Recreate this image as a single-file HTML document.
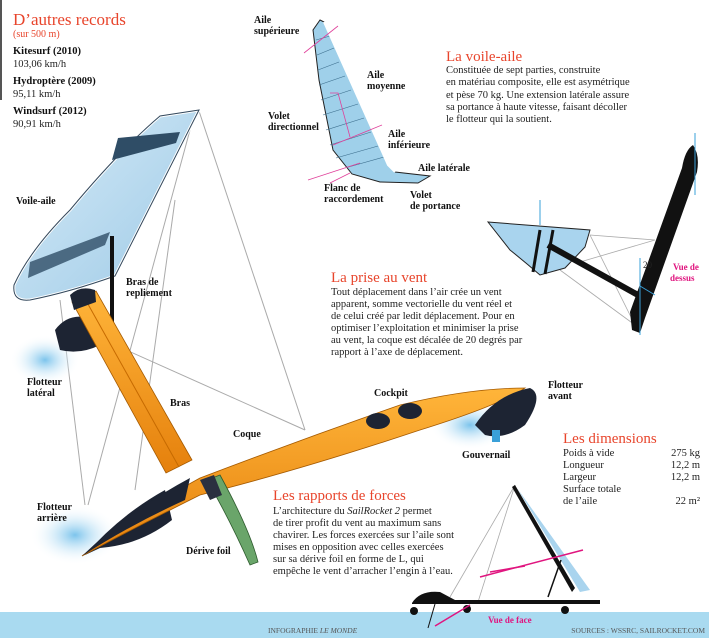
<!DOCTYPE html>
<html><head><meta charset="utf-8"><style>
html,body{margin:0;padding:0;background:#fff;width:709px;height:638px;overflow:hidden}
svg{display:block}
text{font-family:"Liberation Serif",serif}
.h{fill:#e8452c;font-size:15px}
.b{fill:#222;font-size:10.5px}
.l{fill:#111;font-size:10px;font-weight:bold}
</style></head><body>
<svg width="709" height="638" viewBox="0 0 709 638" xmlns="http://www.w3.org/2000/svg">
<defs>
<linearGradient id="sail" x1="0" y1="0" x2="1" y2="1"><stop offset="0" stop-color="#d8ecf8"/><stop offset="1" stop-color="#9cc9e6"/></linearGradient>
<linearGradient id="or" x1="0" y1="0" x2="0" y2="1"><stop offset="0" stop-color="#ffb53a"/><stop offset="1" stop-color="#e5800c"/></linearGradient>
<radialGradient id="spray"><stop offset="0" stop-color="#7cc4ec"/><stop offset="1" stop-color="#fff" stop-opacity="0"/></radialGradient>
</defs>
<rect x="0" y="0" width="2" height="100" fill="#555"/>
<rect x="0" y="612" width="709" height="26" fill="#a9daf0"/>

<!-- cables -->
<g stroke="#aaa" stroke-width="1" fill="none">
<line x1="199" y1="111" x2="305" y2="430"/>
<line x1="190" y1="130" x2="88" y2="505"/>
<line x1="175" y1="200" x2="135" y2="490"/>
<line x1="115" y1="345" x2="305" y2="430"/>
<line x1="60" y1="300" x2="85" y2="505"/>
</g>

<!-- spray -->
<ellipse cx="45" cy="360" rx="35" ry="25" fill="url(#spray)"/>
<ellipse cx="75" cy="535" rx="45" ry="30" fill="url(#spray)"/>
<ellipse cx="470" cy="425" rx="40" ry="25" fill="url(#spray)"/>

<!-- lateral float -->
<path d="M55,330 Q70,310 95,320 L100,345 Q80,355 60,350 Z" fill="#1d2433"/>
<!-- main sail -->
<path d="M199,110 L160,116 Q120,150 70,210 Q30,250 14,285 Q12,302 30,300 Q70,292 115,276 Z" fill="url(#sail)" stroke="#fff" stroke-width="3"/>
<path d="M199,110 L160,116 Q120,150 70,210 Q30,250 14,285 Q12,302 30,300 Q70,292 115,276 Z" fill="none" stroke="#33485c" stroke-width="1"/>
<path d="M118,138 L180,132 L176,143 L112,160 Z" fill="#2f4d66"/>
<path d="M30,262 L110,232 L105,245 L28,278 Z" fill="#2f4d66" opacity=".8"/>
<rect x="110" y="236" width="4" height="90" fill="#111"/>

<!-- arm -->
<path d="M72,302 L96,291 L192,460 L166,473 Z" fill="url(#or)" stroke="#a55a00" stroke-width=".8"/>
<line x1="84" y1="297" x2="179" y2="467" stroke="#c66a00" stroke-width="1"/>
<path d="M70,295 Q80,285 95,290 L96,302 L74,310 Z" fill="#1d2433"/>

<!-- rear float -->
<path d="M85,555 Q120,515 165,490 L172,520 Q140,545 100,548 Z" fill="#1d2433"/>
<!-- hull -->
<path d="M82,556 Q150,505 200,478 Q300,440 400,405 Q470,388 525,388 Q500,405 420,430 Q300,470 200,495 Q130,530 82,556 Z" fill="url(#or)" stroke="#a55a00" stroke-width=".8"/>
<path d="M82,556 Q130,525 185,500 L190,478 Q130,510 82,556Z" fill="#1d2433"/>
<ellipse cx="378" cy="421" rx="12" ry="8" fill="#1d2433"/>
<ellipse cx="410" cy="411" rx="12" ry="8" fill="#1d2433"/>
<!-- front float -->
<path d="M475,425 Q495,395 530,388 Q545,395 525,425 Q505,440 485,435 Z" fill="#1d2433"/>
<rect x="492" y="430" width="8" height="12" fill="#3aa0d8"/>
<!-- foil -->
<path d="M207,480 L220,475 Q250,530 258,562 L250,565 Q230,520 207,480Z" fill="#6aa56a" stroke="#2d5a2d" stroke-width=".8"/>
<path d="M200,480 L214,475 L222,495 L210,500Z" fill="#2a3040"/>

<!-- top wing diagram -->
<path d="M320,20 L324,22 L388,165 L395,172 L430,176 L418,183 L380,182 L352,174 L333,150 L319,80 L313,30 Z" fill="#9fd0ea" stroke="#222" stroke-width="1"/>
<g stroke="#3b6d8c" stroke-width=".6">
<line x1="316" y1="40" x2="330" y2="36"/><line x1="317" y1="55" x2="334" y2="48"/><line x1="318" y1="70" x2="339" y2="62"/><line x1="319" y1="85" x2="345" y2="76"/><line x1="321" y1="100" x2="351" y2="90"/><line x1="323" y1="115" x2="358" y2="104"/><line x1="326" y1="130" x2="364" y2="118"/><line x1="330" y1="145" x2="371" y2="132"/><line x1="336" y1="158" x2="378" y2="146"/><line x1="345" y1="168" x2="384" y2="157"/>
</g>
<path d="M324,22 L388,165 L395,172" fill="none" stroke="#fff" stroke-width="2"/>
<g stroke="#e0409a" stroke-width=".8" fill="none">
<line x1="304" y1="53" x2="338" y2="26"/><line x1="333" y1="145" x2="382" y2="125"/><line x1="308" y1="180" x2="360" y2="163"/><line x1="330" y1="183" x2="350" y2="173"/>
<path d="M330,93 L338,93 L350,137"/>
</g>

<!-- top view diagram -->
<g stroke="#aaa" stroke-width=".8" fill="none">
<line x1="590" y1="235" x2="655" y2="240"/><line x1="590" y1="235" x2="635" y2="325"/><line x1="580" y1="262" x2="655" y2="240"/><line x1="560" y1="270" x2="635" y2="325"/>
</g>
<path d="M488,222 L590,230 L585,247 L565,268 L540,275 Q525,262 510,250 Z" fill="#a9d4ee" stroke="#222" stroke-width="1"/>
<line x1="540" y1="230" x2="533" y2="272" stroke="#111" stroke-width="3"/>
<line x1="553" y1="230" x2="545" y2="274" stroke="#111" stroke-width="3"/>
<line x1="548" y1="245" x2="638" y2="295" stroke="#111" stroke-width="6"/>
<path d="M693,145 Q700,155 697,172 L645,318 L640,333 L632,330 L630,312 L682,168 Q685,150 693,145Z" fill="#111"/>
<line x1="695" y1="133" x2="695" y2="195" stroke="#3aa0d8" stroke-width="1"/>
<line x1="540" y1="200" x2="540" y2="225" stroke="#3aa0d8" stroke-width="1"/>
<line x1="640" y1="258" x2="640" y2="335" stroke="#3aa0d8" stroke-width="1"/>
<line x1="640" y1="286" x2="655" y2="295" stroke="#3aa0d8" stroke-width="1"/>

<!-- front view diagram -->
<g stroke="#aaa" stroke-width=".8" fill="none">
<line x1="515" y1="485" x2="450" y2="597"/><line x1="515" y1="485" x2="478" y2="602"/>
</g>
<path d="M515,485 L575,588 L572,592 L512,487Z" fill="#111"/>
<path d="M517,488 L590,590 L580,592Z" fill="#a9d4ee"/>
<line x1="561" y1="560" x2="548" y2="597" stroke="#111" stroke-width="1.5"/>
<path d="M412,603 Q420,590 440,592 L455,600 L600,600 L600,604 L412,604Z" fill="#111"/>
<circle cx="414" cy="611" r="4" fill="#111"/><circle cx="467" cy="609" r="4" fill="#111"/><circle cx="565" cy="610" r="4" fill="#111"/>
<line x1="435" y1="604" x2="428" y2="628" stroke="#111" stroke-width="1"/>
<g stroke="#e0157f" stroke-width="1.5">
<line x1="480" y1="577" x2="583" y2="550"/><line x1="490" y1="572" x2="525" y2="566"/><line x1="435" y1="626" x2="470" y2="605"/>
</g>

<!-- texts -->
<text x="13" y="25" style="fill:#e8452c;font-size:17px">D’autres records</text>
<text x="13" y="37" style="fill:#e8452c;font-size:10px">(sur 500 m)</text>
<text x="13" y="54" class="l" style="font-size:10.5px">Kitesurf (2010)</text>
<text x="13" y="67" class="b">103,06 km/h</text>
<text x="13" y="84" class="l" style="font-size:10.5px">Hydroptère (2009)</text>
<text x="13" y="97" class="b">95,11 km/h</text>
<text x="13" y="114" class="l" style="font-size:10.5px">Windsurf (2012)</text>
<text x="13" y="127" class="b">90,91 km/h</text>

<text x="254" y="23" class="l">Aile</text><text x="254" y="34" class="l">supérieure</text>
<text x="367" y="78" class="l">Aile</text><text x="367" y="89" class="l">moyenne</text>
<text x="268" y="119" class="l">Volet</text><text x="268" y="130" class="l">directionnel</text>
<text x="388" y="137" class="l">Aile</text><text x="388" y="148" class="l">inférieure</text>
<text x="418" y="171" class="l">Aile latérale</text>
<text x="324" y="191" class="l">Flanc de</text><text x="324" y="202" class="l">raccordement</text>
<text x="410" y="198" class="l">Volet</text><text x="410" y="209" class="l">de portance</text>

<text x="446" y="61" class="h">La voile-aile</text>
<text class="b"><tspan x="446" y="73">Constituée de sept parties, construite</tspan><tspan x="446" y="85">en matériau composite, elle est asymétrique</tspan><tspan x="446" y="98">et pèse 70 kg. Une extension latérale assure</tspan><tspan x="446" y="110">sa portance à haute vitesse, faisant décoller</tspan><tspan x="446" y="122">le flotteur qui la soutient.</tspan></text>

<text x="16" y="204" class="l">Voile-aile</text>
<text x="126" y="285" class="l">Bras de</text><text x="126" y="296" class="l">repliement</text>

<text x="331" y="282" class="h">La prise au vent</text>
<text class="b"><tspan x="331" y="295">Tout déplacement dans l’air crée un vent</tspan><tspan x="331" y="307">apparent, somme vectorielle du vent réel et</tspan><tspan x="331" y="319">de celui créé par ledit déplacement. Pour en</tspan><tspan x="331" y="331">optimiser l’exploitation et minimiser la prise</tspan><tspan x="331" y="343">au vent, la coque est décalée de 20 degrés par</tspan><tspan x="331" y="355">rapport à l’axe de déplacement.</tspan></text>

<text x="643" y="268" style="font-size:9px;fill:#222">20</text>
<text x="673" y="270" class="l" style="fill:#e0157f;font-size:9px">Vue de</text><text x="670" y="281" class="l" style="fill:#e0157f;font-size:9px">dessus</text>

<text x="27" y="385" class="l">Flotteur</text><text x="27" y="396" class="l">latéral</text>
<text x="170" y="406" class="l">Bras</text>
<text x="233" y="437" class="l">Coque</text>
<text x="374" y="396" class="l">Cockpit</text>
<text x="548" y="388" class="l">Flotteur</text><text x="548" y="399" class="l">avant</text>
<text x="462" y="458" class="l">Gouvernail</text>

<text x="563" y="443" class="h">Les dimensions</text>
<text x="563" y="456" class="b">Poids à vide</text><text x="700" y="456" class="b" text-anchor="end">275 kg</text>
<text x="563" y="468" class="b">Longueur</text><text x="700" y="468" class="b" text-anchor="end">12,2 m</text>
<text x="563" y="480" class="b">Largeur</text><text x="700" y="480" class="b" text-anchor="end">12,2 m</text>
<text x="563" y="492" class="b">Surface totale</text>
<text x="563" y="504" class="b">de l’aile</text><text x="700" y="504" class="b" text-anchor="end">22 m²</text>

<text x="273" y="500" class="h">Les rapports de forces</text>
<text class="b"><tspan x="273" y="514">L’architecture du <tspan font-style="italic">SailRocket 2</tspan> permet</tspan><tspan x="273" y="526">de tirer profit du vent au maximum sans</tspan><tspan x="273" y="538">chavirer. Les forces exercées sur l’aile sont</tspan><tspan x="273" y="550">mises en opposition avec celles exercées</tspan><tspan x="273" y="562">sur sa dérive foil en forme de L, qui</tspan><tspan x="273" y="574">empêche le vent d’arracher l’engin à l’eau.</tspan></text>

<text x="37" y="510" class="l">Flotteur</text><text x="37" y="521" class="l">arrière</text>
<text x="186" y="554" class="l">Dérive foil</text>
<text x="488" y="623" class="l" style="fill:#e0157f;font-size:9px">Vue de face</text>
<text x="268" y="633" style="font-size:7.5px;fill:#555">INFOGRAPHIE <tspan font-style="italic">LE MONDE</tspan></text>
<text x="705" y="633" text-anchor="end" style="font-size:7.5px;fill:#555">SOURCES : WSSRC, SAILROCKET.COM</text>
</svg>
</body></html>
